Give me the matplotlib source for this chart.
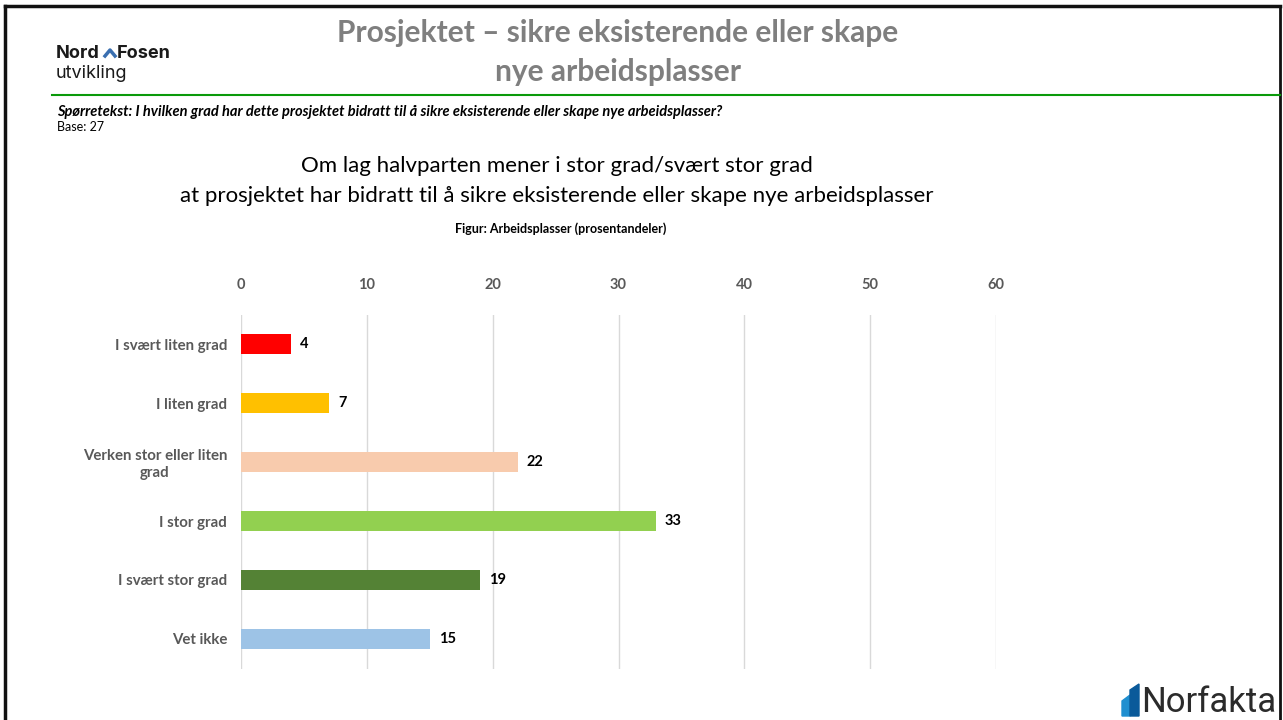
import matplotlib
matplotlib.use("Agg")
import matplotlib.pyplot as plt
from matplotlib.patches import Polygon
from matplotlib.lines import Line2D

plt.rcParams["font.family"] = ["Lato", "DejaVu Sans"]

categories = [
    "I svært liten grad",
    "I liten grad",
    "Verken stor eller liten\ngrad",
    "I stor grad",
    "I svært stor grad",
    "Vet ikke",
]
values = [4, 7, 22, 33, 19, 15]
colors = ["#FF0000", "#FFC000", "#F8CBAD", "#92D050", "#548235", "#9DC3E6"]
xticks = [0, 10, 20, 30, 40, 50, 60]

W, H = 1283, 720
fig = plt.figure(figsize=(W / 100, H / 100), dpi=100)


def fx(px):
    return px / W


def fy(py):
    return 1 - py / H


# slide frame (left, top, right)
fig.add_artist(Line2D([fx(5), fx(5)], [0, fy(6)], color="#111111", lw=2.5))
fig.add_artist(Line2D([fx(5), fx(1280)], [fy(6), fy(6)], color="#111111", lw=2.5))
fig.add_artist(Line2D([fx(1280), fx(1280)], [0, fy(6)], color="#111111", lw=2))

# green rule under header
fig.add_artist(Line2D([fx(52), fx(1280)], [fy(95), fy(95)], color="#0A9A0A", lw=1.5))

# header title
fig.text(fx(618), fy(33), "Prosjektet – sikre eksisterende eller skape",
         ha="center", va="center", fontsize=21.5, fontweight="bold", color="#7F7F7F")
fig.text(fx(618), fy(72), "nye arbeidsplasser",
         ha="center", va="center", fontsize=21.5, fontweight="bold", color="#7F7F7F")

# Nord-Fosen logo
fig.text(fx(56), fy(53), "Nord", ha="left", va="center", fontsize=13,
         fontweight="bold", color="#1a1a1a", family=["Inter", "DejaVu Sans"])
fig.add_artist(Line2D([fx(105), fx(110), fx(115)], [fy(56), fy(50), fy(56)],
                      color="#3a6fb0", lw=2.5))
fig.text(fx(117), fy(53), "Fosen", ha="left", va="center", fontsize=13,
         fontweight="bold", color="#1a1a1a", family=["Inter", "DejaVu Sans"])
fig.text(fx(56), fy(74), "utvikling", ha="left", va="center", fontsize=13,
         color="#1a1a1a", family=["Inter", "DejaVu Sans"])

# question text
fig.text(fx(57), fy(112),
         "Spørretekst: I hvilken grad har dette prosjektet bidratt til å sikre eksisterende eller skape nye arbeidsplasser?",
         ha="left", va="center", fontsize=10.5, fontweight="bold", fontstyle="italic", color="black")
fig.text(fx(57), fy(127), "Base: 27", ha="left", va="center", fontsize=9, color="black")

# chart headline
fig.text(fx(557), fy(166), "Om lag halvparten mener i stor grad/svært stor grad",
         ha="center", va="center", fontsize=16, color="black")
fig.text(fx(557), fy(196),
         "at prosjektet har bidratt til å sikre eksisterende eller skape nye arbeidsplasser",
         ha="center", va="center", fontsize=16, color="black")
fig.text(fx(561), fy(229), "Figur: Arbeidsplasser (prosentandeler)",
         ha="center", va="center", fontsize=9, fontweight="bold", color="black")

# chart
ax = fig.add_axes([fx(241), fy(668.5), fx(996) - fx(241), (668.5 - 314.5) / H])
y = list(range(len(categories)))
ax.barh(y, values, height=0.34, color=colors, zorder=3)
for yi, v in zip(y, values):
    ax.text(v + 0.7, yi, str(v), ha="left", va="center", fontsize=10.5,
            fontweight="bold", color="black")

ax.set_xlim(0, 60)
ax.set_ylim(5.5, -0.5)
ax.xaxis.tick_top()
ax.set_xticks(xticks)
ax.set_yticks(y)
ax.set_yticklabels(categories, fontsize=10.8, fontweight="bold", color="#595959")
ax.tick_params(axis="x", length=0, pad=16, labelsize=10.5, labelcolor="#595959")
ax.tick_params(axis="y", length=0, pad=10)
for t in ax.xaxis.get_major_ticks():
    t.label1.set_fontweight("bold")
    t.label2.set_fontweight("bold")
for lbl in ax.get_yticklabels():
    lbl.set_multialignment("center")
ax.grid(axis="x", color="#D9D9D9", lw=1, zorder=0)
for s in ax.spines.values():
    s.set_visible(False)

# Norfakta logo
fig.add_artist(Polygon([[fx(1122), fy(716)], [fx(1122), fy(701)], [fx(1130), fy(695)], [fx(1130), fy(716)]],
                       closed=True, color="#1f8fd0"))
fig.add_artist(Polygon([[fx(1130), fy(716)], [fx(1130), fy(690)], [fx(1139), fy(684)], [fx(1139), fy(716)]],
                       closed=True, color="#0a5a9a"))
fig.text(fx(1141), fy(703), "Norfakta", ha="left", va="center", fontsize=25,
         color="#2b2b2b", family=["Roboto", "DejaVu Sans"])

fig.savefig("out.png", dpi=100)
